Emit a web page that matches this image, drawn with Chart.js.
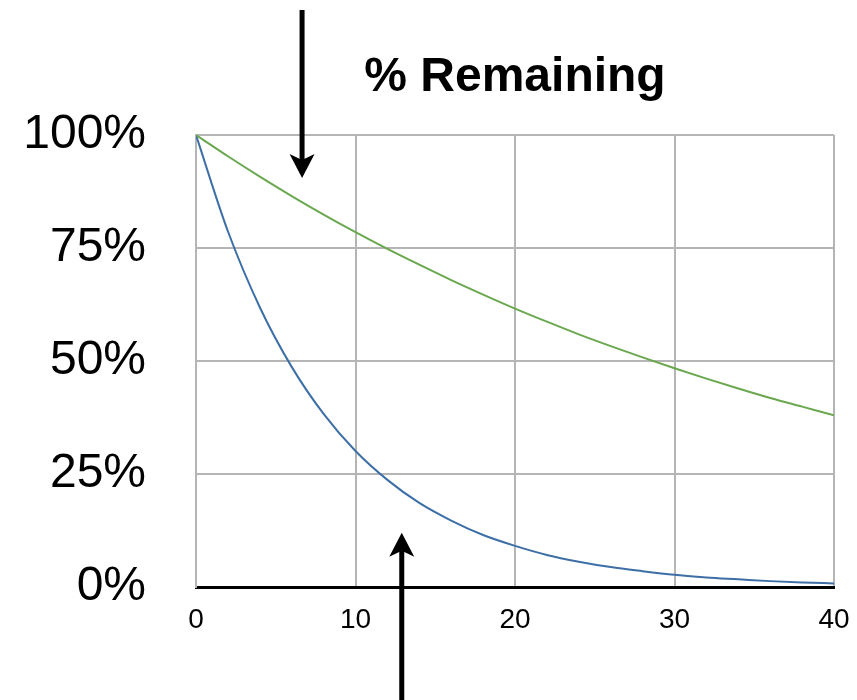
<!DOCTYPE html>
<html>
<head>
<meta charset="utf-8">
<script src="https://cdn.jsdelivr.net/npm/chart.js@4"></script>
<style>
  html, body { margin: 0; padding: 0; background: #fff; }
  canvas { display: block; }
</style>
</head>
<body>
<canvas id="decayChart" width="857" height="700"></canvas>
<script>
// values (x = time, y = % remaining)
const timeSteps = [0, 2, 4, 6, 8, 10, 12, 14, 16, 18, 20, 22, 24, 26, 28, 30, 32, 34, 36, 38, 40];
const slowDecay = [100, 95.3, 90.8, 86.5, 82.4, 78.5, 74.8, 71.3, 67.9, 64.7, 61.6, 58.7, 55.9, 53.3, 50.8, 48.4, 46.1, 43.9, 41.8, 39.9, 38];
const fastDecay = [100, 78.7, 61.9, 48.7, 38.3, 30.1, 23.7, 18.6, 14.7, 11.5, 9.1, 7.1, 5.6, 4.4, 3.5, 2.7, 2.1, 1.7, 1.3, 1.0, 0.8];
const yTicks = [0, 25, 50, 75, 100];
const xTicks = [0, 10, 20, 30, 40];
const chartTitle = '% Remaining';

// arrows pointing at the curves, in data coords
const arrows = [
    { x: 6.65, tipY: 90.5, dir: 'down' },
    { x: 12.9, tipY: 12, dir: 'up' }
];

const toPoints = (ys) => timeSteps.map((t, i) => ({ x: t, y: ys[i] }));

// draws title + arrows on top
const extrasPlugin = {
    id: 'extras',
    afterDraw(chart) {
        const ctx = chart.ctx;
        const xs = chart.scales.x;
        const ys = chart.scales.y;
        const area = chart.chartArea;

        ctx.save();
        ctx.fillStyle = '#000';
        ctx.font = 'bold 48px "Liberation Sans", Arial, sans-serif';
        ctx.textAlign = 'center';
        ctx.textBaseline = 'middle';
        ctx.fillText(chartTitle, (area.left + area.right) / 2, 78);

        arrows.forEach(a => {
            const px = xs.getPixelForValue(a.x);
            const tip = ys.getPixelForValue(a.tipY);
            const headLen = 24;
            const halfW = 12.5;
            // d = +1 means the shaft comes from above
            const d = a.dir === 'down' ? 1 : -1;
            const base = tip - d * headLen;
            const end = a.dir === 'down' ? 10 : chart.height;
            ctx.strokeStyle = '#000';
            ctx.lineWidth = 5;
            ctx.beginPath();
            ctx.moveTo(px, end);
            ctx.lineTo(px, base + d * 6);
            ctx.stroke();
            ctx.beginPath();
            ctx.moveTo(px, tip);
            ctx.lineTo(px - halfW, base);
            ctx.lineTo(px, base + d * 6);
            ctx.lineTo(px + halfW, base);
            ctx.closePath();
            ctx.fill();
        });
        ctx.restore();
    }
};

const ctx = document.getElementById('decayChart').getContext('2d');
let decayChart = new Chart(ctx, {
    type: 'line',
    data: {
        datasets: [{
            label: 'slow',
            data: toPoints(slowDecay),
            borderColor: '#6aa84f',
            borderWidth: 2,
            pointRadius: 0,
            cubicInterpolationMode: 'monotone',
            fill: false
        }, {
            label: 'fast',
            data: toPoints(fastDecay),
            borderColor: '#3d6fa6',
            borderWidth: 2,
            pointRadius: 0,
            cubicInterpolationMode: 'monotone',
            fill: false
        }]
    },
    options: {
        responsive: false,
        animation: false,
        layout: {
            padding: { top: 135, right: 23, left: 0, bottom: 0 }
        },
        plugins: {
            legend: { display: false },
            tooltip: { enabled: false }
        },
        scales: {
            x: {
                type: 'linear',
                min: 0,
                max: 40,
                afterBuildTicks: (scale) => { scale.ticks = xTicks.map(v => ({ value: v })); },
                afterFit: (scale) => {
                    scale.height = 113;
                    scale.paddingLeft = 0;
                    scale.paddingRight = 0;
                },
                grid: { color: '#b5b5b5', lineWidth: 2, drawTicks: false },
                border: { color: '#000', width: 3 },
                ticks: {
                    color: '#000',
                    padding: 16,
                    maxRotation: 0,
                    font: { family: '"Liberation Sans", Arial, sans-serif', size: 28 }
                }
            },
            y: {
                min: 0,
                max: 100,
                afterBuildTicks: (scale) => { scale.ticks = yTicks.map(v => ({ value: v })); },
                afterFit: (scale) => {
                    scale.width = 196;
                    scale.paddingTop = 0;
                    scale.paddingBottom = 0;
                },
                grid: { color: '#b5b5b5', lineWidth: 2, drawTicks: false },
                border: { color: '#b5b5b5', width: 2 },
                ticks: {
                    color: '#000',
                    padding: 50,
                    callback: (v) => v + '%',
                    font: { family: '"Liberation Sans", Arial, sans-serif', size: 48 }
                }
            }
        }
    },
    plugins: [extrasPlugin]
});
</script>
</body>
</html>
